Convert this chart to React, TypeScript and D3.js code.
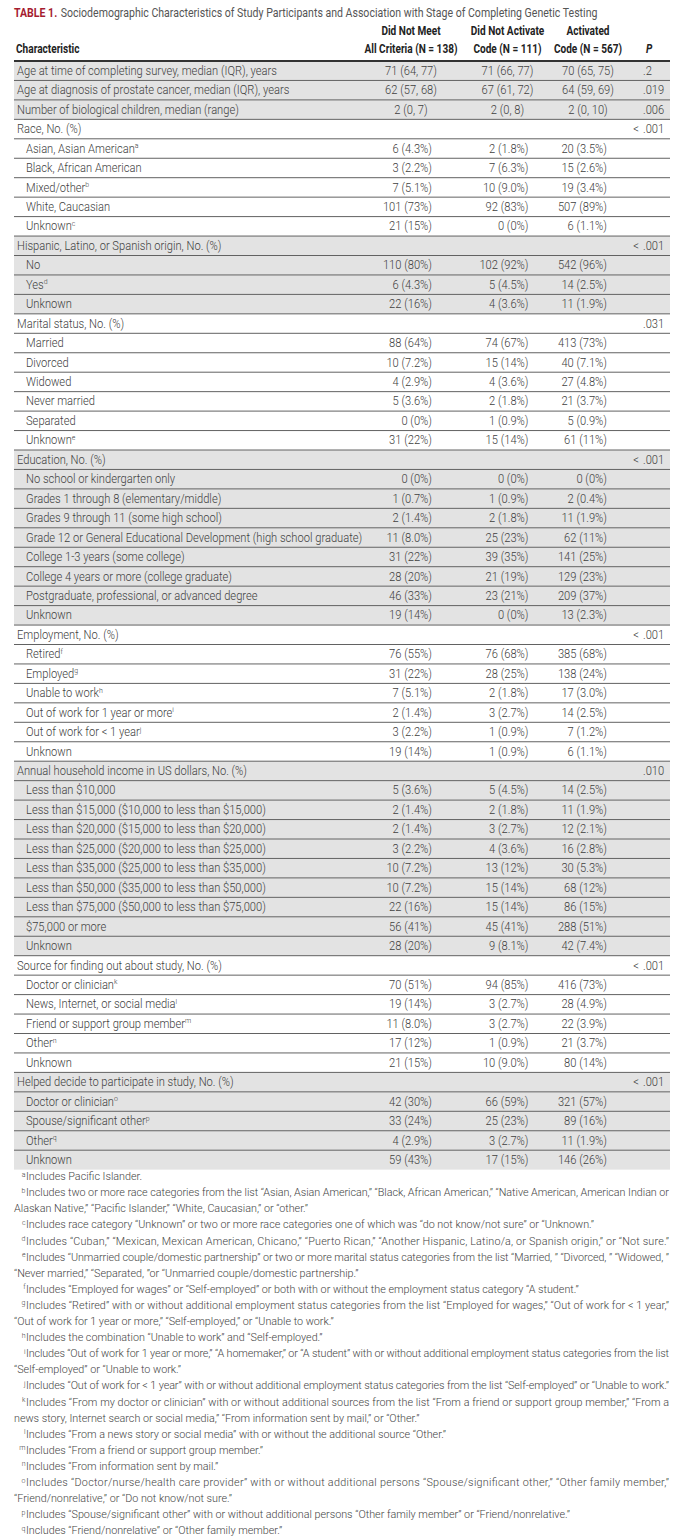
import React from "react";
import * as d3 from "d3";

// ---------- DATA ----------
const titleLabel = "TABLE 1.";
const titleText =
  "Sociodemographic Characteristics of Study Participants and Association with Stage of Completing Genetic Testing";

const headLine1 = ["Did Not Meet", "Did Not Activate", "Activated"];
const headLine2 = ["All Criteria (N = 138)", "Code (N = 111)", "Code (N = 567)"];

// [label, footnote mark, col1, col2, col3, P]
const summaryRows = [
  ["Age at time of completing survey, median (IQR), years", "", "71 (64, 77)", "71 (66, 77)", "70 (65, 75)", ".2"],
  ["Age at diagnosis of prostate cancer, median (IQR), years", "", "62 (57, 68)", "67 (61, 72)", "64 (59, 69)", ".019"],
  ["Number of biological children, median (range)", "", "2 (0, 7)", "2 (0, 8)", "2 (0, 10)", ".006"],
];

const raceRows = [
  ["Asian, Asian American", "a", "6 (4.3%)", "2 (1.8%)", "20 (3.5%)"],
  ["Black, African American", "", "3 (2.2%)", "7 (6.3%)", "15 (2.6%)"],
  ["Mixed/other", "b", "7 (5.1%)", "10 (9.0%)", "19 (3.4%)"],
  ["White, Caucasian", "", "101 (73%)", "92 (83%)", "507 (89%)"],
  ["Unknown", "c", "21 (15%)", "0 (0%)", "6 (1.1%)"],
];

const hispanicRows = [
  ["No", "", "110 (80%)", "102 (92%)", "542 (96%)"],
  ["Yes", "d", "6 (4.3%)", "5 (4.5%)", "14 (2.5%)"],
  ["Unknown", "", "22 (16%)", "4 (3.6%)", "11 (1.9%)"],
];

const maritalRows = [
  ["Married", "", "88 (64%)", "74 (67%)", "413 (73%)"],
  ["Divorced", "", "10 (7.2%)", "15 (14%)", "40 (7.1%)"],
  ["Widowed", "", "4 (2.9%)", "4 (3.6%)", "27 (4.8%)"],
  ["Never married", "", "5 (3.6%)", "2 (1.8%)", "21 (3.7%)"],
  ["Separated", "", "0 (0%)", "1 (0.9%)", "5 (0.9%)"],
  ["Unknown", "e", "31 (22%)", "15 (14%)", "61 (11%)"],
];

const educationRows = [
  ["No school or kindergarten only", "", "0 (0%)", "0 (0%)", "0 (0%)"],
  ["Grades 1 through 8 (elementary/middle)", "", "1 (0.7%)", "1 (0.9%)", "2 (0.4%)"],
  ["Grades 9 through 11 (some high school)", "", "2 (1.4%)", "2 (1.8%)", "11 (1.9%)"],
  ["Grade 12 or General Educational Development (high school graduate)", "", "11 (8.0%)", "25 (23%)", "62 (11%)"],
  ["College 1-3 years (some college)", "", "31 (22%)", "39 (35%)", "141 (25%)"],
  ["College 4 years or more (college graduate)", "", "28 (20%)", "21 (19%)", "129 (23%)"],
  ["Postgraduate, professional, or advanced degree", "", "46 (33%)", "23 (21%)", "209 (37%)"],
  ["Unknown", "", "19 (14%)", "0 (0%)", "13 (2.3%)"],
];

const employmentRows = [
  ["Retired", "f", "76 (55%)", "76 (68%)", "385 (68%)"],
  ["Employed", "g", "31 (22%)", "28 (25%)", "138 (24%)"],
  ["Unable to work", "h", "7 (5.1%)", "2 (1.8%)", "17 (3.0%)"],
  ["Out of work for 1 year or more", "i", "2 (1.4%)", "3 (2.7%)", "14 (2.5%)"],
  ["Out of work for < 1 year", "j", "3 (2.2%)", "1 (0.9%)", "7 (1.2%)"],
  ["Unknown", "", "19 (14%)", "1 (0.9%)", "6 (1.1%)"],
];

const incomeRows = [
  ["Less than $10,000", "", "5 (3.6%)", "5 (4.5%)", "14 (2.5%)"],
  ["Less than $15,000 ($10,000 to less than $15,000)", "", "2 (1.4%)", "2 (1.8%)", "11 (1.9%)"],
  ["Less than $20,000 ($15,000 to less than $20,000)", "", "2 (1.4%)", "3 (2.7%)", "12 (2.1%)"],
  ["Less than $25,000 ($20,000 to less than $25,000)", "", "3 (2.2%)", "4 (3.6%)", "16 (2.8%)"],
  ["Less than $35,000 ($25,000 to less than $35,000)", "", "10 (7.2%)", "13 (12%)", "30 (5.3%)"],
  ["Less than $50,000 ($35,000 to less than $50,000)", "", "10 (7.2%)", "15 (14%)", "68 (12%)"],
  ["Less than $75,000 ($50,000 to less than $75,000)", "", "22 (16%)", "15 (14%)", "86 (15%)"],
  ["$75,000 or more", "", "56 (41%)", "45 (41%)", "288 (51%)"],
  ["Unknown", "", "28 (20%)", "9 (8.1%)", "42 (7.4%)"],
];

const sourceRows = [
  ["Doctor or clinician", "k", "70 (51%)", "94 (85%)", "416 (73%)"],
  ["News, Internet, or social media", "l", "19 (14%)", "3 (2.7%)", "28 (4.9%)"],
  ["Friend or support group member", "m", "11 (8.0%)", "3 (2.7%)", "22 (3.9%)"],
  ["Other", "n", "17 (12%)", "1 (0.9%)", "21 (3.7%)"],
  ["Unknown", "", "21 (15%)", "10 (9.0%)", "80 (14%)"],
];

const helpedRows = [
  ["Doctor or clinician", "o", "42 (30%)", "66 (59%)", "321 (57%)"],
  ["Spouse/significant other", "p", "33 (24%)", "25 (23%)", "89 (16%)"],
  ["Other", "q", "4 (2.9%)", "3 (2.7%)", "11 (1.9%)"],
  ["Unknown", "", "59 (43%)", "17 (15%)", "146 (26%)"],
];

const sectionTitles = [
  "Race, No. (%)",
  "Hispanic, Latino, or Spanish origin, No. (%)",
  "Marital status, No. (%)",
  "Education, No. (%)",
  "Employment, No. (%)",
  "Annual household income in US dollars, No. (%)",
  "Source for finding out about study, No. (%)",
  "Helped decide to participate in study, No. (%)",
];
const sectionP = ["< .001", "< .001", ".031", "< .001", "< .001", ".010", "< .001", "< .001"];
const sectionRows = [raceRows, hispanicRows, maritalRows, educationRows, employmentRows, incomeRows, sourceRows, helpedRows];

// footnotes: [mark, first line, continuation line]
const footnotes = [
  ["a", "Includes Pacific Islander.", ""],
  ["b", "Includes two or more race categories from the list “Asian, Asian American,” “Black, African American,” “Native American, American Indian or", "Alaskan Native,” “Pacific Islander,” “White, Caucasian,” or “other.”"],
  ["c", "Includes race category “Unknown” or two or more race categories one of which was “do not know/not sure” or “Unknown.”", ""],
  ["d", "Includes “Cuban,” “Mexican, Mexican American, Chicano,” “Puerto Rican,” “Another Hispanic, Latino/a, or Spanish origin,” or “Not sure.”", ""],
  ["e", "Includes “Unmarried couple/domestic partnership” or two or more marital status categories from the list “Married, ” “Divorced, ” “Widowed, ”", "“Never married,” “Separated, ”or “Unmarried couple/domestic partnership.”"],
  ["f", "Includes “Employed for wages” or “Self-employed” or both with or without the employment status category “A student.”", ""],
  ["g", "Includes “Retired” with or without additional employment status categories from the list “Employed for wages,” “Out of work for < 1 year,”", "“Out of work for 1 year or more,” “Self-employed,” or “Unable to work.”"],
  ["h", "Includes the combination “Unable to work” and “Self-employed.”", ""],
  ["i", "Includes “Out of work for 1 year or more,” “A homemaker,” or “A student” with or without additional employment status categories from the list", "“Self-employed” or “Unable to work.”"],
  ["j", "Includes “Out of work for < 1 year” with or without additional employment status categories from the list “Self-employed” or “Unable to work.”", ""],
  ["k", "Includes “From my doctor or clinician” with or without additional sources from the list “From a friend or support group member,” “From a", "news story, Internet search or social media,” “From information sent by mail,” or “Other.”"],
  ["l", "Includes “From a news story or social media” with or without the additional source “Other.”", ""],
  ["m", "Includes “From a friend or support group member.”", ""],
  ["n", "Includes “From information sent by mail.”", ""],
  ["o", "Includes “Doctor/nurse/health care provider” with or without additional persons “Spouse/significant other,” “Other family member,”", "“Friend/nonrelative,” or “Do not know/not sure.”"],
  ["p", "Includes “Spouse/significant other” with or without additional persons “Other family member” or “Friend/nonrelative.”", ""],
  ["q", "Includes “Friend/nonrelative” or “Other family member.”", ""],
];
// single-line notes that run the full measure in the reference
const fullWidthNotes = ["d", "j"];

// ---------- LAYOUT ----------
const W = 687;
const H = 1540;
const LEFT = 14;
const RIGHT = 670;
const TABLE_TOP = 61;
const ROW_H = 19.45;
const FONT = "Roboto, 'Liberation Sans', Arial, sans-serif";
const TEXT_COLOR = "#404040";
const SHADE = "#e3e3e3";
const RULE = "#626262";

const BODY_FS = 12;
const BODY_SX = 0.93;
const TITLE_FS = 12;
const TITLE_SX = 0.88;
const HEAD_FS = 12;
const HEAD_SX = 0.84;
const FN_FS = 11;
const FN_SX = 0.98;

type FlatRow = {
  label: string;
  mark: string;
  vals: string[];
  p: string;
  indent: boolean;
  shaded: boolean;
  kind: "median" | "pct" | "head";
};

function buildRows(): FlatRow[] {
  const out: FlatRow[] = [];
  summaryRows.forEach((r) =>
    out.push({ label: r[0], mark: r[1], vals: r.slice(2, 5), p: r[5], indent: false, shaded: true, kind: "median" })
  );
  sectionTitles.forEach((t, si) => {
    const shaded = si % 2 === 1;
    out.push({ label: t, mark: "", vals: [], p: sectionP[si], indent: false, shaded, kind: "head" });
    sectionRows[si].forEach((r) =>
      out.push({ label: r[0], mark: r[1], vals: r.slice(2, 5), p: "", indent: true, shaded, kind: "pct" })
    );
  });
  return out;
}

const colCenters = [411, 507.5, 588];
const colRights = [432, 528.5, 607];
const P_X = 643;

// condensed text: horizontally scaled about its anchor point
function T(props: {
  x: number;
  y: number;
  sx: number;
  anchor?: "start" | "middle" | "end";
  children: React.ReactNode;
  [k: string]: any;
}) {
  const { x, y, sx, anchor, children, ...rest } = props;
  return (
    <text transform={`translate(${x},${y}) scale(${sx},1)`} textAnchor={anchor || "start"} {...rest}>
      {children}
    </text>
  );
}

export default function App() {
  const rows = buildRows();
  const y = d3.scaleLinear().domain([0, rows.length]).range([TABLE_TOP, TABLE_TOP + rows.length * ROW_H]);
  const tableBottom = y(rows.length);

  const fnTop = tableBottom + 10.5;
  const fnStep = 16.1;
  let fnLine = 0;
  const fnItems: { x: number; y: number; text: string; mark: string; justify: boolean }[] = [];
  footnotes.forEach((f) => {
    fnItems.push({
      x: 26,
      y: fnTop + fnLine * fnStep,
      text: f[1],
      mark: f[0],
      justify: f[2] !== "" || fullWidthNotes.includes(f[0]),
    });
    fnLine++;
    if (f[2]) {
      fnItems.push({ x: LEFT, y: fnTop + fnLine * fnStep, text: f[2], mark: "", justify: false });
      fnLine++;
    }
  });

  return (
    <svg
      width={W}
      height={H}
      viewBox={`0 0 ${W} ${H}`}
      style={{ position: "absolute", left: 0, top: 0, background: "#fff" }}
      fontFamily={FONT}
    >
      <rect x={0} y={0} width={W} height={H} fill="#fff" />
      {/* title */}
      <T x={LEFT} y={17} sx={TITLE_SX} fontSize={TITLE_FS} fill="#555">
        <tspan fontWeight="bold" fill="#a51c30">{titleLabel}</tspan>
        <tspan dx={4}>{titleText}</tspan>
      </T>

      {/* header */}
      <g fontWeight="bold" fontSize={HEAD_FS} fill="#222">
        <T x={LEFT + 2} y={53} sx={HEAD_SX}>Characteristic</T>
        {headLine1.map((h, i) => (
          <T key={"h1" + i} x={colCenters[i]} y={35} sx={HEAD_SX} anchor="middle">{h}</T>
        ))}
        {headLine2.map((h, i) => (
          <T key={"h2" + i} x={colCenters[i]} y={53} sx={HEAD_SX} anchor="middle">{h}</T>
        ))}
        <T x={P_X + 3} y={53} sx={HEAD_SX} fontStyle="italic">P</T>
      </g>

      {/* shading */}
      {rows.map((r, i) =>
        r.shaded ? (
          <rect key={"bg" + i} x={LEFT} y={y(i)} width={RIGHT - LEFT} height={ROW_H} fill={SHADE} />
        ) : null
      )}

      {/* row rules */}
      {rows.map((_, i) =>
        i > 0 ? (
          <line key={"ln" + i} x1={LEFT} x2={RIGHT} y1={y(i)} y2={y(i)} stroke={RULE} strokeWidth={1} />
        ) : null
      )}
      <line x1={LEFT} x2={RIGHT} y1={TABLE_TOP} y2={TABLE_TOP} stroke="#333" strokeWidth={1.8} />

      {/* row text */}
      <g fontSize={BODY_FS} fill={TEXT_COLOR} fontWeight={300}>
        {rows.map((r, i) => {
          const by = y(i) + 13.8;
          return (
            <g key={"rt" + i}>
              <T x={r.indent ? LEFT + 12 : LEFT + 3} y={by} sx={BODY_SX}>
                {r.label}
                {r.mark ? (
                  <tspan fontSize={7.5} dy={-4.5}>{r.mark}</tspan>
                ) : null}
              </T>
              {r.vals.map((v, j) =>
                r.kind === "median" ? (
                  <T key={j} x={colCenters[j]} y={by} sx={BODY_SX} anchor="middle">{v}</T>
                ) : (
                  <T key={j} x={colRights[j]} y={by} sx={BODY_SX} anchor="end">{v}</T>
                )
              )}
              {r.p ? (
                r.p.startsWith("<") ? (
                  <g>
                    <T x={P_X - 4} y={by} sx={BODY_SX} anchor="end">{"<"}</T>
                    <T x={P_X} y={by} sx={BODY_SX}>{r.p.replace("< ", "")}</T>
                  </g>
                ) : (
                  <T x={P_X} y={by} sx={BODY_SX}>{r.p}</T>
                )
              ) : null}
            </g>
          );
        })}
      </g>

      {/* footnotes */}
      <g fontSize={FN_FS} fill="#444" fontWeight={300}>
        {fnItems.map((f, i) => (
          <g key={"fn" + i}>
            {f.mark ? (
              <text x={f.x - 0.5} y={f.y - 3.5} fontSize={7} textAnchor="end">{f.mark}</text>
            ) : null}
            <T
              x={f.x}
              y={f.y}
              sx={FN_SX}
              {...(f.justify ? { textLength: (RIGHT - 1 - f.x) / FN_SX, lengthAdjust: "spacing" } : {})}
            >
              {f.text}
            </T>
          </g>
        ))}
      </g>
    </svg>
  );
}
